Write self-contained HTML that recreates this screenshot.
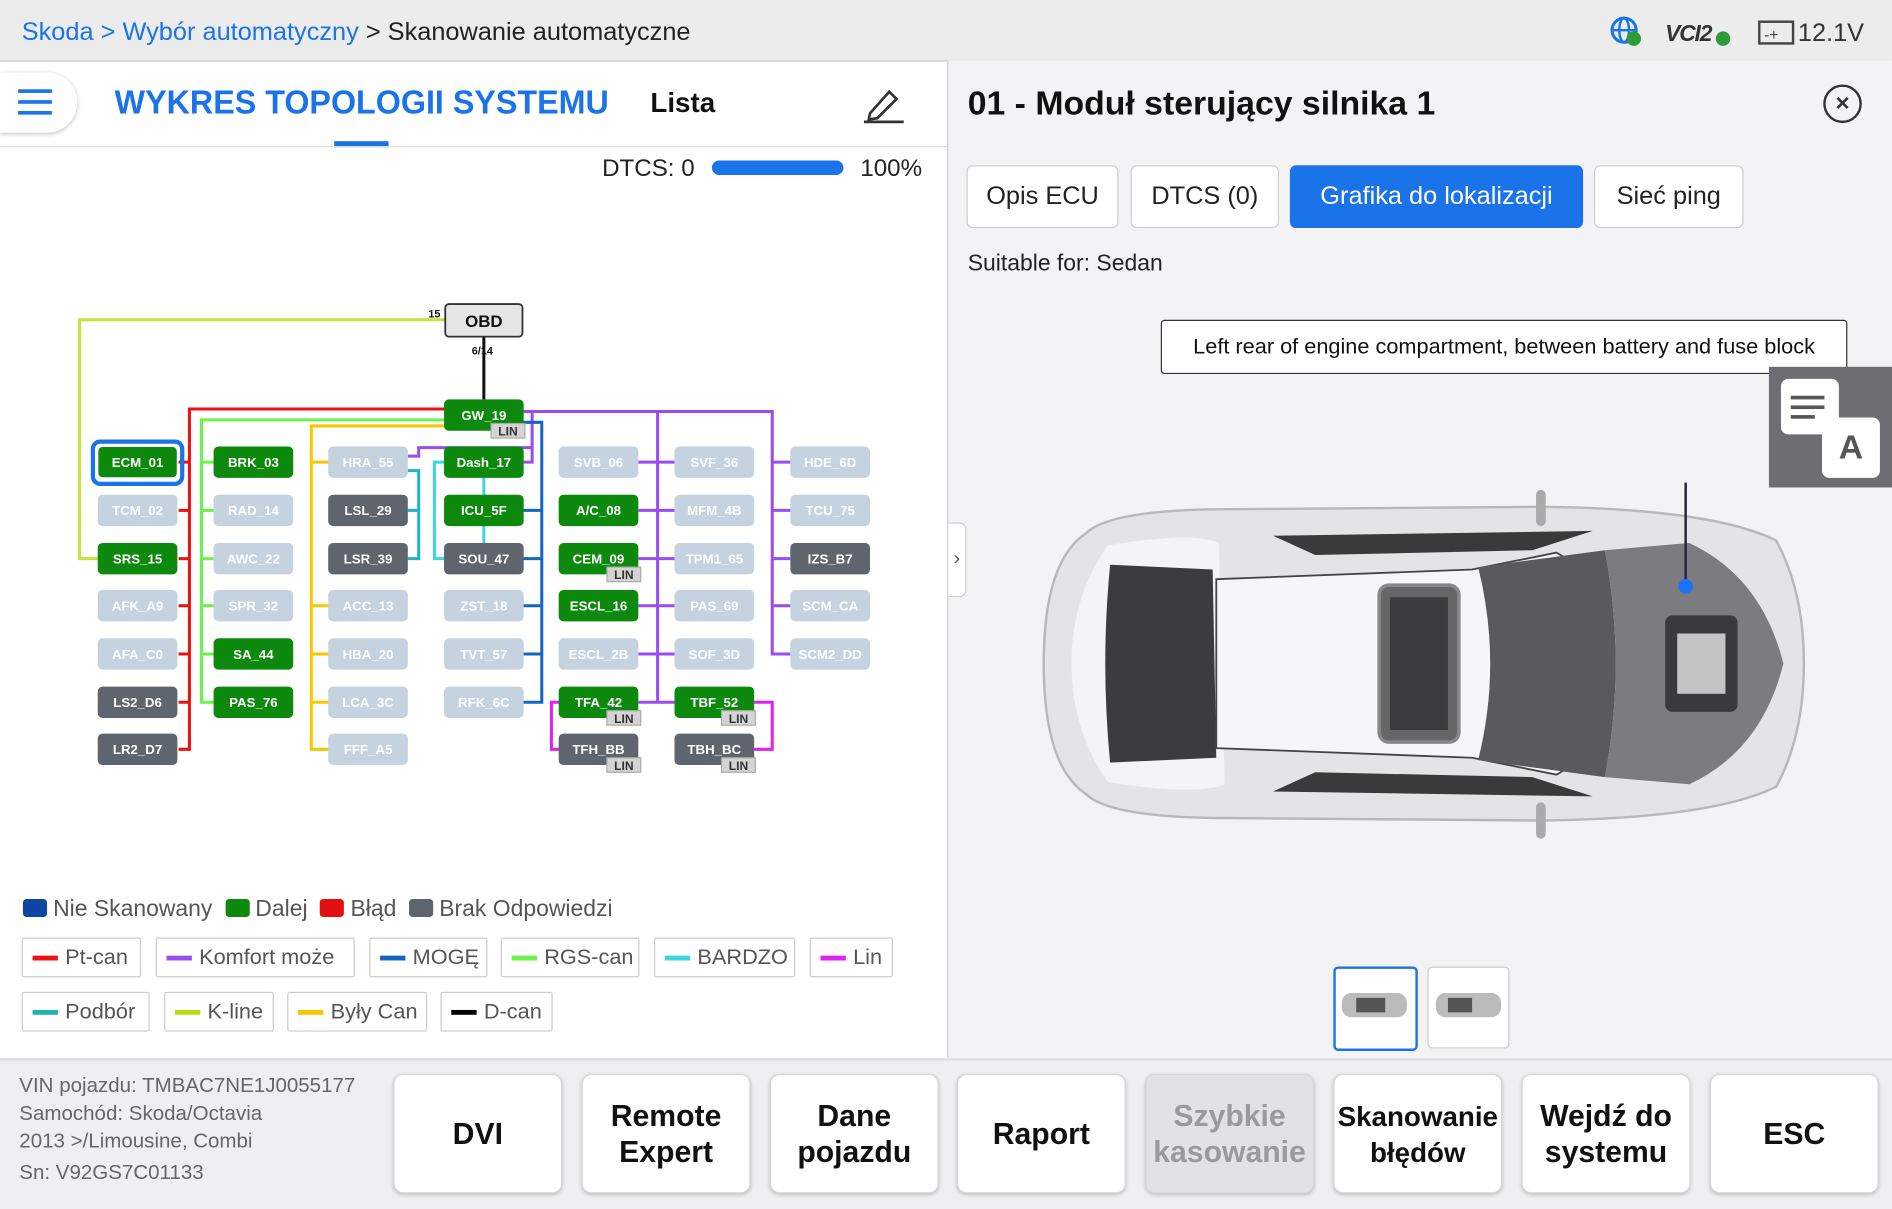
<!DOCTYPE html>
<html><head><meta charset="utf-8">
<style>
html,body{margin:0;padding:0;width:1892px;height:1206px;overflow:hidden;background:#fff;}
#w{position:absolute;left:0;top:0;width:1568px;height:1000px;transform:scale(1.20663);transform-origin:0 0;font-family:"Liberation Sans",sans-serif;color:#222;}
.a{position:absolute;white-space:nowrap;}
.btn{position:absolute;top:890px;width:138px;height:97px;background:#fff;border:1px solid #d6d6d6;border-radius:8px;box-shadow:0 1px 3px rgba(0,0,0,.2);display:flex;align-items:center;justify-content:center;text-align:center;font-size:25px;font-weight:bold;line-height:30px;color:#111;}
.tab{position:absolute;top:137px;height:50px;border:1px solid #ccc;border-radius:5px;background:#fff;display:flex;align-items:center;justify-content:center;font-size:21px;color:#222;}
.lg{position:absolute;height:33px;border:1px solid #ccc;border-radius:2px;background:#fff;display:flex;align-items:center;font-size:18px;color:#555;padding-left:8px;box-sizing:border-box;}
.lg i{display:inline-block;width:21px;height:4px;margin-right:6px;}
.sq{display:inline-block;width:20px;height:15px;border-radius:3px;vertical-align:-1px;margin-right:5px;}
</style></head><body><div id="w">
<!-- top bar -->
<div class="a" style="left:0;top:0;width:1568px;height:50px;background:#ececec;border-bottom:1px solid #c8c8c8;"></div>
<div class="a" style="left:18px;top:15px;font-size:21px;"><span style="color:#1a73e8">Skoda &gt; Wybór automatyczny</span> &gt; Skanowanie automatyczne</div>
<svg class="a" style="left:1330px;top:10px" width="240" height="34">
<circle cx="16" cy="15" r="10" fill="none" stroke="#1a73e8" stroke-width="2.5"/><ellipse cx="16" cy="15" rx="4" ry="10" fill="none" stroke="#1a73e8" stroke-width="2"/><line x1="6" y1="15" x2="26" y2="15" stroke="#1a73e8" stroke-width="2"/>
<circle cx="24" cy="22" r="6" fill="#2e9b3a"/>
<text x="50" y="24" font-family="Liberation Sans" font-weight="bold" font-style="italic" font-size="19" fill="#333" letter-spacing="-1">VCI2</text>
<circle cx="98" cy="22" r="6" fill="#2e9b3a"/>
<rect x="128" y="8" width="28" height="18" fill="none" stroke="#444" stroke-width="2"/><text x="132" y="23" font-size="13" fill="#444">-+</text>
<text x="160" y="24" font-family="Liberation Sans" font-size="21" fill="#333">12.1V</text>
</svg>
<!-- left header -->
<div class="a" style="left:0;top:60px;width:64px;height:50px;background:#fff;border-radius:0 25px 25px 0;box-shadow:0 1px 4px rgba(0,0,0,.25);"></div>
<svg class="a" style="left:15px;top:72px" width="30" height="26"><rect x="0" y="2" width="28" height="3" fill="#1a73e8"/><rect x="0" y="11" width="28" height="3" fill="#1a73e8"/><rect x="0" y="20" width="28" height="3" fill="#1a73e8"/></svg>
<div class="a" style="left:95px;top:69px;font-size:28px;font-weight:bold;color:#1a73e8;transform:scaleX(0.955);transform-origin:0 0;">WYKRES TOPOLOGII SYSTEMU</div>
<div class="a" style="left:277px;top:117px;width:45px;height:5px;background:#1a73e8;"></div>
<div class="a" style="left:539px;top:72px;font-size:23px;font-weight:bold;color:#111;">Lista</div>
<svg class="a" style="left:713px;top:70px" width="40" height="34"><path d="M8 24 L24 6 L30 12 L14 28 L7 29 Z" fill="none" stroke="#333" stroke-width="2.2"/><line x1="3" y1="31" x2="36" y2="31" stroke="#333" stroke-width="2.2"/></svg>
<div class="a" style="left:0;top:121px;width:785px;height:1px;background:#ddd;"></div>
<div class="a" style="left:499px;top:129px;font-size:20px;">DTCS: 0</div>
<div class="a" style="left:590px;top:133px;width:109px;height:12px;border-radius:6px;background:#1a73e8;"></div>
<div class="a" style="left:713px;top:129px;font-size:20px;">100%</div>
<!-- topology -->
<svg class="a" style="left:0;top:0" width="786" height="700" font-family="Liberation Sans" font-weight="bold" font-size="11">
<g fill="none" stroke-width="2.5">
<polyline points="369,265 66,265 66,463 82,463" stroke="#c8e23a"/>
<line x1="401" y1="279" x2="401" y2="331" stroke="#111"/>
<polyline points="369,339 157,339 157,621 148,621" stroke="#f01010"/>
<g stroke="#f01010"><line x1="148" y1="383" x2="157" y2="383"/><line x1="148" y1="423" x2="157" y2="423"/><line x1="148" y1="463" x2="157" y2="463"/><line x1="148" y1="502" x2="157" y2="502"/><line x1="148" y1="542" x2="157" y2="542"/><line x1="148" y1="582" x2="157" y2="582"/></g>
<polyline points="369,348 167,348 167,582 177,582" stroke="#6cf24a"/>
<g stroke="#6cf24a"><line x1="167" y1="383" x2="177" y2="383"/><line x1="167" y1="423" x2="177" y2="423"/><line x1="167" y1="463" x2="177" y2="463"/><line x1="167" y1="502" x2="177" y2="502"/><line x1="167" y1="542" x2="177" y2="542"/></g>
<polyline points="369,353 258,353 258,621 273,621" stroke="#f5c800"/>
<g stroke="#f5c800"><line x1="258" y1="383" x2="273" y2="383"/><line x1="258" y1="502" x2="273" y2="502"/><line x1="258" y1="542" x2="273" y2="542"/><line x1="258" y1="582" x2="273" y2="582"/></g>
<polyline points="433,341 640,341 640,542 655,542" stroke="#9a4cf0"/>
<g stroke="#9a4cf0"><line x1="640" y1="383" x2="655" y2="383"/><line x1="640" y1="423" x2="655" y2="423"/><line x1="640" y1="463" x2="655" y2="463"/><line x1="640" y1="502" x2="655" y2="502"/>
<line x1="545" y1="341" x2="545" y2="582"/><line x1="529" y1="383" x2="560" y2="383"/><line x1="529" y1="423" x2="560" y2="423"/><line x1="529" y1="463" x2="560" y2="463"/><line x1="529" y1="502" x2="560" y2="502"/><line x1="529" y1="542" x2="560" y2="542"/><line x1="529" y1="582" x2="560" y2="582"/>
<polyline points="433,341 441,341 441,383 433,383"/><polyline points="441,371 347,371 347,378 338,378"/></g>
<polyline points="433,350 449,350 449,582 433,582" stroke="#1565c0"/>
<g stroke="#1565c0"><line x1="433" y1="423" x2="449" y2="423"/><line x1="433" y1="463" x2="449" y2="463"/><line x1="433" y1="502" x2="449" y2="502"/><line x1="433" y1="542" x2="449" y2="542"/></g>
<g stroke="#1eb4c8"><polyline points="338,390 347,390 347,463 338,463"/><line x1="338" y1="423" x2="347" y2="423"/></g>
<g stroke="#3dd6dc"><polyline points="369,383 360,383 360,463 369,463"/><line x1="401" y1="396" x2="401" y2="450"/></g>
<g stroke="#e020f0"><polyline points="465,582 457,582 457,621 465,621"/><polyline points="625,582 640,582 640,621 625,621"/></g>
</g>
<rect x="369" y="252" width="64" height="27" rx="3" fill="#e6e6e6" stroke="#333" stroke-width="1.5"/>
<text x="401" y="271" text-anchor="middle" font-size="14" fill="#111">OBD</text>
<text x="355" y="263" font-size="9" fill="#111">15</text>
<text x="391" y="294" font-size="9" fill="#111">6/14</text>
<rect x="77" y="366" width="74" height="35" rx="6" fill="none" stroke="#1a73e8" stroke-width="3.5"/>
<g text-anchor="middle" fill="#fff">
<rect x="81" y="370" width="66" height="26" rx="4" fill="#0d8a0d" stroke="#fff" stroke-width="1"/><text x="114" y="387" fill="#fff">ECM_01</text>
<rect x="81" y="410" width="66" height="26" rx="4" fill="#c5d2e0"/><text x="114" y="427" fill="#fff">TCM_02</text>
<rect x="81" y="450" width="66" height="26" rx="4" fill="#0d8a0d"/><text x="114" y="467" fill="#fff">SRS_15</text>
<rect x="81" y="489" width="66" height="26" rx="4" fill="#c5d2e0"/><text x="114" y="506" fill="#fff">AFK_A9</text>
<rect x="81" y="529" width="66" height="26" rx="4" fill="#c5d2e0"/><text x="114" y="546" fill="#fff">AFA_C0</text>
<rect x="81" y="569" width="66" height="26" rx="4" fill="#5e656f"/><text x="114" y="586" fill="#fff">LS2_D6</text>
<rect x="81" y="608" width="66" height="26" rx="4" fill="#5e656f"/><text x="114" y="625" fill="#fff">LR2_D7</text>
<rect x="177" y="370" width="66" height="26" rx="4" fill="#0d8a0d"/><text x="210" y="387" fill="#fff">BRK_03</text>
<rect x="177" y="410" width="66" height="26" rx="4" fill="#c5d2e0"/><text x="210" y="427" fill="#fff">RAD_14</text>
<rect x="177" y="450" width="66" height="26" rx="4" fill="#c5d2e0"/><text x="210" y="467" fill="#fff">AWC_22</text>
<rect x="177" y="489" width="66" height="26" rx="4" fill="#c5d2e0"/><text x="210" y="506" fill="#fff">SPR_32</text>
<rect x="177" y="529" width="66" height="26" rx="4" fill="#0d8a0d"/><text x="210" y="546" fill="#fff">SA_44</text>
<rect x="177" y="569" width="66" height="26" rx="4" fill="#0d8a0d"/><text x="210" y="586" fill="#fff">PAS_76</text>
<rect x="272" y="370" width="66" height="26" rx="4" fill="#c5d2e0"/><text x="305" y="387" fill="#fff">HRA_55</text>
<rect x="272" y="410" width="66" height="26" rx="4" fill="#5e656f"/><text x="305" y="427" fill="#fff">LSL_29</text>
<rect x="272" y="450" width="66" height="26" rx="4" fill="#5e656f"/><text x="305" y="467" fill="#fff">LSR_39</text>
<rect x="272" y="489" width="66" height="26" rx="4" fill="#c5d2e0"/><text x="305" y="506" fill="#fff">ACC_13</text>
<rect x="272" y="529" width="66" height="26" rx="4" fill="#c5d2e0"/><text x="305" y="546" fill="#fff">HBA_20</text>
<rect x="272" y="569" width="66" height="26" rx="4" fill="#c5d2e0"/><text x="305" y="586" fill="#fff">LCA_3C</text>
<rect x="272" y="608" width="66" height="26" rx="4" fill="#c5d2e0"/><text x="305" y="625" fill="#fff">FFF_A5</text>
<rect x="368" y="331" width="66" height="26" rx="4" fill="#0d8a0d"/><text x="401" y="348" fill="#fff">GW_19</text>
<rect x="368" y="370" width="66" height="26" rx="4" fill="#0d8a0d"/><text x="401" y="387" fill="#fff">Dash_17</text>
<rect x="368" y="410" width="66" height="26" rx="4" fill="#0d8a0d"/><text x="401" y="427" fill="#fff">ICU_5F</text>
<rect x="368" y="450" width="66" height="26" rx="4" fill="#5e656f"/><text x="401" y="467" fill="#fff">SOU_47</text>
<rect x="368" y="489" width="66" height="26" rx="4" fill="#c5d2e0"/><text x="401" y="506" fill="#fff">ZST_18</text>
<rect x="368" y="529" width="66" height="26" rx="4" fill="#c5d2e0"/><text x="401" y="546" fill="#fff">TVT_57</text>
<rect x="368" y="569" width="66" height="26" rx="4" fill="#c5d2e0"/><text x="401" y="586" fill="#fff">RFK_6C</text>
<rect x="463" y="370" width="66" height="26" rx="4" fill="#c5d2e0"/><text x="496" y="387" fill="#fff">SVB_06</text>
<rect x="463" y="410" width="66" height="26" rx="4" fill="#0d8a0d"/><text x="496" y="427" fill="#fff">A/C_08</text>
<rect x="463" y="450" width="66" height="26" rx="4" fill="#0d8a0d"/><text x="496" y="467" fill="#fff">CEM_09</text>
<rect x="463" y="489" width="66" height="26" rx="4" fill="#0d8a0d"/><text x="496" y="506" fill="#fff">ESCL_16</text>
<rect x="463" y="529" width="66" height="26" rx="4" fill="#c5d2e0"/><text x="496" y="546" fill="#fff">ESCL_2B</text>
<rect x="463" y="569" width="66" height="26" rx="4" fill="#0d8a0d"/><text x="496" y="586" fill="#fff">TFA_42</text>
<rect x="463" y="608" width="66" height="26" rx="4" fill="#5e656f"/><text x="496" y="625" fill="#fff">TFH_BB</text>
<rect x="559" y="370" width="66" height="26" rx="4" fill="#c5d2e0"/><text x="592" y="387" fill="#fff">SVF_36</text>
<rect x="559" y="410" width="66" height="26" rx="4" fill="#c5d2e0"/><text x="592" y="427" fill="#fff">MFM_4B</text>
<rect x="559" y="450" width="66" height="26" rx="4" fill="#c5d2e0"/><text x="592" y="467" fill="#fff">TPM1_65</text>
<rect x="559" y="489" width="66" height="26" rx="4" fill="#c5d2e0"/><text x="592" y="506" fill="#fff">PAS_69</text>
<rect x="559" y="529" width="66" height="26" rx="4" fill="#c5d2e0"/><text x="592" y="546" fill="#fff">SOF_3D</text>
<rect x="559" y="569" width="66" height="26" rx="4" fill="#0d8a0d"/><text x="592" y="586" fill="#fff">TBF_52</text>
<rect x="559" y="608" width="66" height="26" rx="4" fill="#5e656f"/><text x="592" y="625" fill="#fff">TBH_BC</text>
<rect x="655" y="370" width="66" height="26" rx="4" fill="#c5d2e0"/><text x="688" y="387" fill="#fff">HDE_6D</text>
<rect x="655" y="410" width="66" height="26" rx="4" fill="#c5d2e0"/><text x="688" y="427" fill="#fff">TCU_75</text>
<rect x="655" y="450" width="66" height="26" rx="4" fill="#5e656f"/><text x="688" y="467" fill="#fff">IZS_B7</text>
<rect x="655" y="489" width="66" height="26" rx="4" fill="#c5d2e0"/><text x="688" y="506" fill="#fff">SCM_CA</text>
<rect x="655" y="529" width="66" height="26" rx="4" fill="#c5d2e0"/><text x="688" y="546" fill="#fff">SCM2_DD</text>
</g>
<g font-size="10" text-anchor="middle">
<rect x="407" y="351" width="28" height="12" fill="#d4d4d4" stroke="#aaa"/><text x="421" y="361" fill="#333">LIN</text>
<rect x="503" y="470" width="28" height="12" fill="#d4d4d4" stroke="#aaa"/><text x="517" y="480" fill="#333">LIN</text>
<rect x="503" y="589" width="28" height="12" fill="#d4d4d4" stroke="#aaa"/><text x="517" y="599" fill="#333">LIN</text>
<rect x="503" y="628" width="28" height="12" fill="#d4d4d4" stroke="#aaa"/><text x="517" y="638" fill="#333">LIN</text>
<rect x="598" y="589" width="28" height="12" fill="#d4d4d4" stroke="#aaa"/><text x="612" y="599" fill="#333">LIN</text>
<rect x="598" y="628" width="28" height="12" fill="#d4d4d4" stroke="#aaa"/><text x="612" y="638" fill="#333">LIN</text>
</g>
</svg>
<!-- legend -->
<div class="a" style="left:19px;top:743px;font-size:19px;color:#555;"><span class="sq" style="background:#0d47a1"></span>Nie Skanowany &nbsp;<span class="sq" style="background:#0d8a0d"></span>Dalej &nbsp;<span class="sq" style="background:#e01010"></span>Błąd &nbsp;<span class="sq" style="background:#5e656f"></span>Brak Odpowiedzi</div>
<div class="lg" style="left:18px;top:777px;width:99px;"><i style="background:#f01010"></i>Pt-can</div>
<div class="lg" style="left:129px;top:777px;width:165px;"><i style="background:#9a4cf0"></i>Komfort może</div>
<div class="lg" style="left:306px;top:777px;width:98px;"><i style="background:#1565c0"></i>MOGĘ</div>
<div class="lg" style="left:415px;top:777px;width:115px;"><i style="background:#6cf24a"></i>RGS-can</div>
<div class="lg" style="left:542px;top:777px;width:117px;"><i style="background:#3dd6dc"></i>BARDZO</div>
<div class="lg" style="left:671px;top:777px;width:69px;"><i style="background:#e020f0"></i>Lin</div>
<div class="lg" style="left:18px;top:822px;width:106px;"><i style="background:#1eb4b4"></i>Podbór</div>
<div class="lg" style="left:136px;top:822px;width:91px;"><i style="background:#b8dc10"></i>K-line</div>
<div class="lg" style="left:238px;top:822px;width:116px;"><i style="background:#f5c800"></i>Były Can</div>
<div class="lg" style="left:365px;top:822px;width:93px;"><i style="background:#000"></i>D-can</div>
<!-- right panel -->
<div class="a" style="left:785px;top:50px;width:783px;height:827px;background:#f3f3f5;border-left:1px solid #ccc;"></div>
<div class="a" style="left:802px;top:70px;font-size:28px;font-weight:bold;color:#111;">01 - Moduł sterujący silnika 1</div>
<div class="a" style="left:1511px;top:70px;width:28px;height:28px;border:2.5px solid #333;border-radius:50%;text-align:center;line-height:28px;font-size:20px;font-weight:bold;color:#333;">×</div>
<div class="tab" style="left:801px;width:124px;">Opis ECU</div>
<div class="tab" style="left:937px;width:121px;">DTCS (0)</div>
<div class="tab" style="left:1069px;width:241px;background:#1a73e8;border-color:#1a73e8;color:#fff;">Grafika do lokalizacji</div>
<div class="tab" style="left:1321px;width:122px;">Sieć ping</div>
<div class="a" style="left:802px;top:208px;font-size:19px;color:#222;">Suitable for: Sedan</div>
<div class="a" style="left:962px;top:265px;width:567px;height:43px;border:1.5px solid #333;border-radius:3px;background:#fff;font-size:18px;line-height:43px;text-align:center;color:#111;">Left rear of engine compartment, between battery and fuse block</div>
<div class="a" style="left:786px;top:433px;width:14px;height:60px;background:#fff;border:1px solid #ccc;border-left:none;border-radius:0 6px 6px 0;font-size:16px;line-height:60px;color:#555;text-align:center;">›</div>
<svg class="a" style="left:860px;top:400px" width="640" height="300">
<path d="M40 42 Q60 22 160 22 L420 20 Q560 22 612 48 Q635 90 635 150 Q635 210 612 252 Q560 278 420 280 L160 278 Q60 278 40 258 Q5 235 5 150 Q5 65 40 42 Z" fill="#e4e4e6" stroke="#b8b8bc" stroke-width="2"/>
<path d="M58 52 Q130 40 150 50 L155 250 Q130 260 58 248 Q28 205 28 150 Q28 95 58 52Z" fill="#f4f4f6"/>
<path d="M60 68 L145 72 L148 228 L60 232 Q52 150 60 68Z" fill="#3c3c3e"/>
<path d="M148 80 L360 72 L430 58 Q470 80 470 150 Q470 220 430 242 L360 228 L148 220 Z" fill="#f6f6f8" stroke="#444" stroke-width="1.5"/>
<rect x="283" y="85" width="66" height="130" rx="8" fill="#666" stroke="#888" stroke-width="3"/>
<rect x="292" y="95" width="48" height="110" fill="#3c3c3e"/>
<path d="M365 70 L470 56 Q488 150 470 244 L365 230 Q385 150 365 70Z" fill="#5a5a5c"/>
<path d="M470 56 L540 50 Q600 78 618 150 Q600 222 540 250 L470 244 Q488 150 470 56Z" fill="#7c7c80"/>
<rect x="520" y="110" width="60" height="80" rx="6" fill="#3a3a3c"/>
<rect x="530" y="125" width="40" height="50" fill="#c4c4c4"/>
<path d="M195 44 L460 40 L410 56 L230 60Z" fill="#3a3a3a"/><path d="M195 256 L460 260 L410 244 L230 240Z" fill="#3a3a3a"/>
<rect x="413" y="6" width="8" height="30" rx="4" fill="#aaa"/><rect x="413" y="265" width="8" height="30" rx="4" fill="#aaa"/>
<line x1="537" y1="-90" x2="537" y2="86" stroke="#223" stroke-width="2"/>
<circle cx="537" cy="86" r="6" fill="#1a73ff"/>
</svg>
<div class="a" style="left:1466px;top:304px;width:102px;height:100px;background:#6e6e72;"></div>
<div class="a" style="left:1476px;top:314px;width:48px;height:46px;background:#fff;border-radius:6px;"></div>
<div class="a" style="left:1510px;top:346px;width:48px;height:50px;background:#fff;border-radius:6px;font-size:28px;font-weight:bold;text-align:center;line-height:50px;color:#555;">A</div>
<svg class="a" style="left:1484px;top:326px" width="32" height="24"><rect x="0" y="2" width="28" height="3" fill="#555"/><rect x="0" y="10" width="28" height="3" fill="#555"/><rect x="0" y="18" width="20" height="3" fill="#555"/></svg>
<div class="a" style="left:1105px;top:801px;width:66px;height:66px;border:2px solid #1a73e8;border-radius:4px;background:#fff;"></div>
<div class="a" style="left:1183px;top:801px;width:66px;height:66px;border:1px solid #ccc;border-radius:4px;background:#fff;"></div>
<svg class="a" style="left:1110px;top:818px" width="140" height="30"><rect x="2" y="5" width="54" height="20" rx="8" fill="#bbb"/><rect x="14" y="9" width="24" height="12" fill="#555"/><rect x="80" y="5" width="54" height="20" rx="8" fill="#bbb"/><rect x="90" y="9" width="20" height="12" fill="#555"/></svg>
<!-- bottom bar -->
<div class="a" style="left:0;top:877px;width:1568px;height:123px;background:#efeff1;border-top:2px solid #ddd;"></div>
<div class="a" style="left:16px;top:888px;font-size:17px;line-height:23px;color:#666;white-space:normal;width:290px;">VIN pojazdu: TMBAC7NE1J0055177<br>Samochód: Skoda/Octavia<br>2013 &gt;/Limousine, Combi<br><span style="line-height:30px">Sn: V92GS7C01133</span></div>
<div class="btn" style="left:326px;">DVI</div>
<div class="btn" style="left:482px;">Remote<br>Expert</div>
<div class="btn" style="left:638px;">Dane<br>pojazdu</div>
<div class="btn" style="left:793px;">Raport</div>
<div class="btn" style="left:949px;background:#e2e2e4;color:#9a9a9a;">Szybkie<br>kasowanie</div>
<div class="btn" style="left:1105px;font-size:23px;">Skanowanie<br>błędów</div>
<div class="btn" style="left:1261px;">Wejdź do<br>systemu</div>
<div class="btn" style="left:1417px;">ESC</div>
</div></body></html>
